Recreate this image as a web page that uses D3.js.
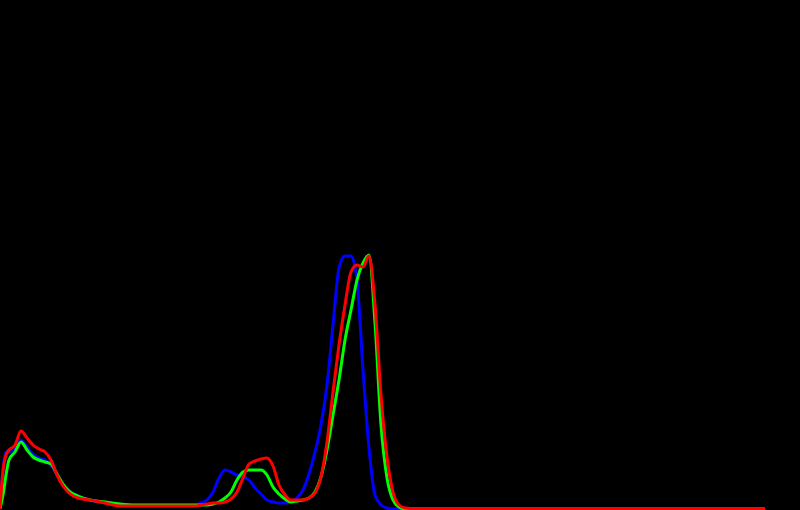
<!DOCTYPE html>
<html>
<head>
<meta charset="utf-8">
<script src="https://cdn.jsdelivr.net/npm/d3@7"></script>
<style>
  html, body { margin: 0; padding: 0; background: #000; overflow: hidden; }
  svg { display: block; background: #000; }
</style>
</head>
<body>
<svg id="chart" width="800" height="510"></svg>
<script>
// Histogram bin (intensity level, 0-255) at which each value is sampled
const bins = [0,1,2,3,5,7,9,11,13,15,17,19,21,23,26,30,35,40,45,50,55,60,65,67,69,71,73,75,77,79,81,83,85,87,89,91,93,95,97,99,101,103,105,107,109,111,113,115,117,119,121,123,125,127,129,131,133,135,140,170,200,230,255];

// Pixel counts (relative units) for each channel
const blueValues  = [0,39,57,57,61,69,62,55,51,49,44,34,24,18,13,9,6,4,4,4,4,4,4,6,9,17,31,39,37,34,32,29,21,15,9,7,6,6,7,11,19,35,57,84,124,184,241,253,253,229,139,61,14,4,1,0,0,0,0,0,0,0,0];
const greenValues = [0,14,34,49,57,67,59,52,49,47,45,35,25,18,13,9,7,5,4,4,4,4,4,4,4,5,7,11,17,29,37,39,39,39,34,22,15,10,7,8,9,11,17,32,59,94,129,169,199,229,246,254,186,84,31,9,2,0,0,0,0,0,0];
const redValues   = [0,39,54,59,64,78,71,64,60,57,49,34,23,16,11,9,6,3,3,3,3,3,3,4,5,6,6,7,10,17,31,45,48,50,51,43,24,14,9,9,9,11,16,32,67,117,164,204,237,244,242,253,204,114,52,17,4,1,0,0,0,0,0];

const channels = [
  { name: "blue",  values: blueValues,  color: "#0000ff" },
  { name: "green", values: greenValues, color: "#00ff00" },
  { name: "red",   values: redValues,   color: "#ff0000" }
];

const width = 800, height = 510;
const svg = d3.select("#chart");

const x = d3.scaleLinear().domain([0, 255]).range([0, 765]);
const y = d3.scaleLinear().domain([0, 260]).range([509, 249]);

const line = d3.line()
  .x((d, i) => x(bins[i]))
  .y(d => y(d))
  .curve(d3.curveMonotoneX);

svg.append("rect").attr("width", width).attr("height", height).attr("fill", "#000");

svg.selectAll("path.channel")
  .data(channels)
  .enter()
  .append("path")
  .attr("class", "channel")
  .attr("fill", "none")
  .attr("stroke", d => d.color)
  .attr("stroke-width", 3)
  .attr("stroke-linejoin", "round")
  .attr("d", d => line(d.values));
</script>
</body>
</html>
